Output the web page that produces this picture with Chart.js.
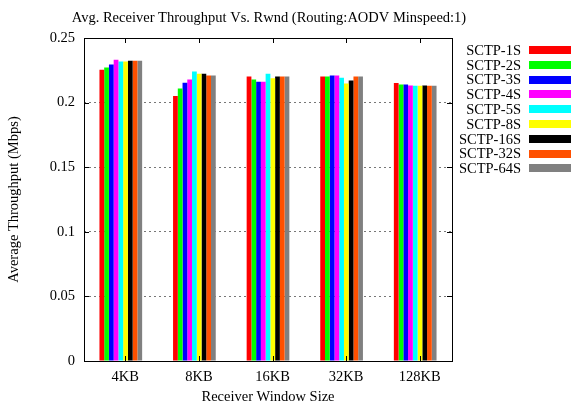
<!DOCTYPE html>
<html>
<head>
<meta charset="utf-8">
<script src="https://cdn.jsdelivr.net/npm/chart.js@4"></script>
<style>
  html, body { margin: 0; padding: 0; background: #fff; }
  #wrap { width: 571px; height: 404px; }
</style>
</head>
<body>
<div id="wrap"><canvas id="c" width="571" height="404"></canvas></div>
<script>
const categories = ['4KB', '8KB', '16KB', '32KB', '128KB'];
const seriesNames = ['SCTP-1S', 'SCTP-2S', 'SCTP-3S', 'SCTP-4S', 'SCTP-5S', 'SCTP-8S', 'SCTP-16S', 'SCTP-32S', 'SCTP-64S'];
const seriesColors = ['#ff0000', '#00ff00', '#0000ff', '#ff00ff', '#00ffff', '#ffff00', '#000000', '#ff5000', '#808080'];
const sctp1S  = [0.2254, 0.2051, 0.2202, 0.2202, 0.2151];
const sctp2S  = [0.2272, 0.2110, 0.2179, 0.2202, 0.2141];
const sctp3S  = [0.2295, 0.2154, 0.2162, 0.2210, 0.2141];
const sctp4S  = [0.2331, 0.2179, 0.2162, 0.2210, 0.2133];
const sctp5S  = [0.2318, 0.2241, 0.2223, 0.2192, 0.2131];
const sctp8S  = [0.2318, 0.2223, 0.2189, 0.2148, 0.2131];
const sctp16S = [0.2323, 0.2223, 0.2202, 0.2172, 0.2133];
const sctp32S = [0.2323, 0.2210, 0.2202, 0.2202, 0.2131];
const sctp64S = [0.2323, 0.2210, 0.2202, 0.2202, 0.2131];
const yTickLabels = ['0', '0.05', '0.1', '0.15', '0.2', '0.25'];
const chartTitle = 'Avg. Receiver Throughput Vs. Rwnd (Routing:AODV Minspeed:1)';

const seriesValues = [sctp1S, sctp2S, sctp3S, sctp4S, sctp5S, sctp8S, sctp16S, sctp32S, sctp64S];
const FONT = 'Liberation Serif';
const FS = 14.5;
const LABEL_SHIFT = 4.5;

const framePlugin = {
  id: 'frame',
  afterDatasetsDraw(chart) {
    const ctx = chart.ctx;
    const a = chart.chartArea;
    const x = chart.scales.x, y = chart.scales.y;
    ctx.save();
    ctx.strokeStyle = '#000';
    ctx.lineWidth = 1;
    ctx.beginPath();
    y.ticks.forEach((t) => {
      const py = Math.round(y.getPixelForValue(t.value)) + 0.5;
      ctx.moveTo(a.left, py); ctx.lineTo(a.left + 5, py);
      ctx.moveTo(a.right, py); ctx.lineTo(a.right - 5, py);
    });
    categories.forEach((c, i) => {
      const px = Math.round(x.getPixelForValue(i) + LABEL_SHIFT) + 0.5;
      ctx.moveTo(px, a.bottom); ctx.lineTo(px, a.bottom - 5);
      ctx.moveTo(px, a.top); ctx.lineTo(px, a.top + 5);
    });
    ctx.stroke();
    ctx.strokeRect(Math.round(a.left) + 0.5, Math.round(a.top) + 0.5,
                   Math.round(a.right - a.left), Math.round(a.bottom - a.top));
    // title
    ctx.fillStyle = '#000';
    ctx.font = FS + 'px "' + FONT + '"';
    ctx.textAlign = 'center';
    ctx.textBaseline = 'middle';
    ctx.fillText(chartTitle, 269, 18);
    // legend
    ctx.textAlign = 'right';
    chart.data.datasets.forEach((ds, i) => {
      const cy = 50 + i * 14.8;
      ctx.fillStyle = '#000';
      ctx.fillText(ds.label, 521, cy + 1);
      ctx.fillStyle = ds.backgroundColor;
      ctx.fillRect(529, Math.round(cy - 4), 42, 8);
    });
    ctx.restore();
  }
};

new Chart(document.getElementById('c'), {
  type: 'bar',
  data: {
    labels: categories,
    datasets: seriesNames.map((n, i) => ({
      label: n,
      data: seriesValues[i],
      backgroundColor: seriesColors[i],
      borderWidth: 0,
      categoryPercentage: 0.58,
      barPercentage: 1.0
    }))
  },
  options: {
    responsive: false,
    animation: false,
    devicePixelRatio: 1,
    layout: { padding: { left: 0, right: 119, top: 38, bottom: 0 } },
    plugins: {
      legend: { display: false },
      tooltip: { enabled: false },
      title: { display: false }
    },
    scales: {
      x: {
        grid: { display: false, drawTicks: false },
        border: { display: false },
        ticks: {
          color: '#000',
          font: { family: FONT, size: FS },
          padding: 7,
          labelOffset: LABEL_SHIFT,
          maxRotation: 0
        },
        title: {
          display: true,
          text: 'Receiver Window Size',
          color: '#000',
          font: { family: FONT, size: FS },
          padding: { top: 0, bottom: -2 }
        },
        afterFit(scale) { scale.height = 43; }
      },
      y: {
        min: 0,
        max: 0.25,
        grid: {
          drawTicks: false,
          color: (ctx) => (ctx.tick && (ctx.tick.value === 0 || ctx.tick.value >= 0.25)) ? 'rgba(0,0,0,0)' : '#777',
          lineWidth: 1
        },
        border: { display: false, dash: [2, 3] },
        ticks: {
          stepSize: 0.05,
          color: '#000',
          font: { family: FONT, size: FS },
          padding: 9,
          callback: (v, i) => yTickLabels[i]
        },
        title: {
          display: true,
          text: 'Average Throughput (Mbps)',
          color: '#000',
          font: { family: FONT, size: FS },
          padding: { top: 5, bottom: 0 }
        },
        afterFit(scale) { scale.width = 84; }
      }
    }
  },
  plugins: [framePlugin]
});
</script>
</body>
</html>
